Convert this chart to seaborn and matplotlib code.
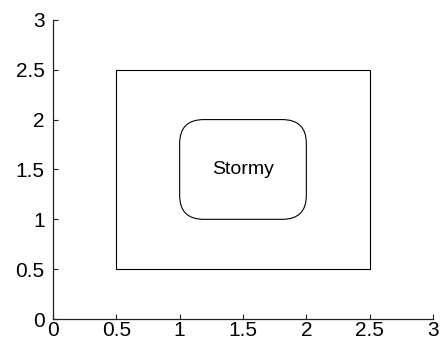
import numpy as np
import matplotlib
matplotlib.use('Agg')
import matplotlib.pyplot as plt
from matplotlib.patches import Rectangle, FancyBboxPatch
import seaborn as sns

# ── データ ───────────────────────────────────────────
outer_box = [0.5, 0.5, 2.0, 2.0]      # x, y, 幅, 高さ
inner_box = [1.0, 1.0, 1.0, 1.0]
inner_round = [0.19, 0.24]            # 角の丸み（x, y 方向）
label_text = 'Stormy'
label_pos = [1.5, 1.5]
ticks = [0, 0.5, 1, 1.5, 2, 2.5, 3]
tick_labels = ['0', '0.5', '1', '1.5', '2', '2.5', '3']

sns.set_style('ticks')
plt.rcParams['font.family'] = ['Liberation Sans', 'DejaVu Sans']
plt.rcParams['xtick.direction'] = 'in'
plt.rcParams['ytick.direction'] = 'in'

fig = plt.figure(figsize=(4.41, 3.42), dpi=100)
ax = fig.add_axes([0.120, 0.067, 0.862, 0.875])

ax.add_patch(Rectangle((outer_box[0], outer_box[1]), outer_box[2], outer_box[3],
                       fill=False, edgecolor='black', linewidth=0.8))
ax.add_patch(FancyBboxPatch((inner_box[0], inner_box[1]), inner_box[2], inner_box[3],
                            boxstyle=f'round,pad=0,rounding_size={inner_round[0]}',
                            mutation_aspect=inner_round[1] / inner_round[0],
                            fill=False, edgecolor='black', linewidth=0.8))
ax.text(label_pos[0], label_pos[1], label_text, ha='center', va='center',
        fontsize=14, color='black')

ax.set_xlim(0, 3)
ax.set_ylim(0, 3)
ax.set_xticks(ticks)
ax.set_xticklabels(tick_labels)
ax.set_yticks(ticks)
ax.set_yticklabels(tick_labels)
ax.tick_params(labelsize=15, length=3.5, width=0.8, color='#222222',
               labelcolor='black')
ax.tick_params(axis='x', pad=1.5)
ax.tick_params(axis='y', pad=6)
sns.despine(ax=ax)
for s in ['left', 'bottom']:
    ax.spines[s].set_color('#222222')
    ax.spines[s].set_linewidth(0.9)

fig.savefig('out.png', dpi=100)
